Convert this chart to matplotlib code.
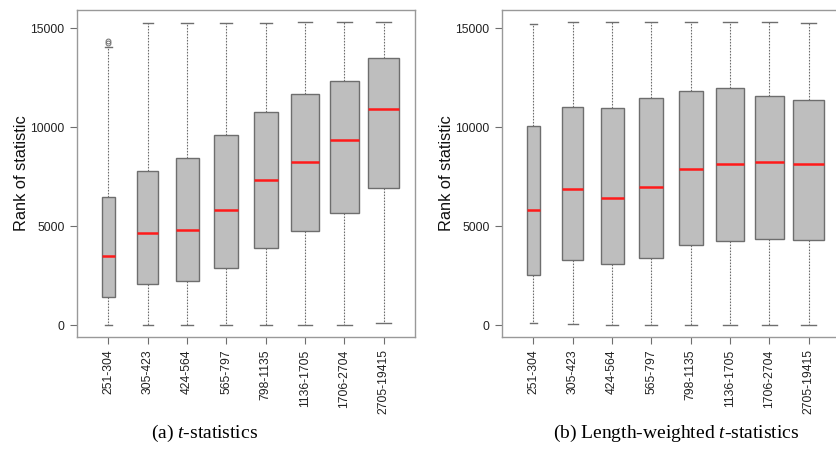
import numpy as np
import matplotlib
matplotlib.use('Agg')
import matplotlib.pyplot as plt

plt.rcParams['font.family'] = ['Liberation Sans', 'DejaVu Sans']
plt.rcParams['mathtext.fontset'] = 'custom'
plt.rcParams['mathtext.it'] = 'Liberation Serif:italic'
plt.rcParams['mathtext.rm'] = 'Liberation Serif'

# length groups (x categories)
groups = ['251-304', '305-423', '424-564', '565-797', '798-1135',
          '1136-1705', '1706-2704', '2705-19415']

# (a) t-statistics: whisker low, Q1, median, Q3, whisker high
t_low = [0, 0, 0, 0, 0, 0, 0, 120]
t_q1 = [1410, 2080, 2250, 2890, 3900, 4740, 5670, 6930]
t_med = [3480, 4650, 4790, 5820, 7310, 8255, 9330, 10930]
t_q3 = [6455, 7800, 8420, 9600, 10760, 11700, 12340, 13470]
t_high = [14040, 15250, 15280, 15280, 15280, 15300, 15300, 15300]
t_outliers = [[14230, 14360], [], [], [], [], [], [], []]

# (b) length-weighted t-statistics
w_low = [85, 50, 20, 0, 0, 0, 0, 0]
w_q1 = [2540, 3280, 3080, 3415, 4035, 4240, 4360, 4290]
w_med = [5835, 6895, 6405, 6980, 7900, 8155, 8220, 8140]
w_q3 = [10070, 10995, 10960, 11470, 11820, 11970, 11570, 11380]
w_high = [15230, 15300, 15300, 15300, 15300, 15300, 15300, 15250]
w_outliers = [[], [], [], [], [], [], [], []]

# varwidth-style box widths
box_widths = [0.33, 0.53, 0.585, 0.61, 0.61, 0.71, 0.74, 0.80]

edge = '#6e6e6e'


def make_stats(low, q1, med, q3, high, fl):
    return [dict(whislo=a, q1=b, med=c, q3=d, whishi=e, fliers=f)
            for a, b, c, d, e, f in zip(low, q1, med, q3, high, fl)]


def draw(ax, stats):
    pos = np.arange(1, len(groups) + 1)
    ax.bxp(stats, positions=pos, widths=box_widths, patch_artist=True,
           capwidths=[w * 0.5 for w in box_widths],
           boxprops=dict(facecolor='#bebebe', edgecolor=edge, linewidth=1.0),
           medianprops=dict(color='#ff1a1a', linewidth=1.8),
           whiskerprops=dict(color=edge, linestyle=(0, (1.5, 1.2)), linewidth=0.8),
           capprops=dict(color=edge, linewidth=1.0),
           flierprops=dict(marker='o', markerfacecolor='none', markeredgecolor=edge,
                           markersize=3.5, markeredgewidth=0.7))
    ax.set_xlim(0.2, 8.8)
    ax.set_ylim(-600, 15920)
    ax.set_yticks([0, 5000, 10000, 15000])
    ax.set_yticklabels(['0', '5000', '10000', '15000'])
    ax.set_xticks(pos)
    ax.set_xticklabels(groups, rotation=90)
    ax.tick_params(direction='out', length=5, width=0.8, color=edge,
                   labelsize=8.7, labelcolor='#222222', pad=4)
    for s in ax.spines.values():
        s.set_color('#999999')
        s.set_linewidth(1.0)
    ax.set_ylabel('Rank of statistic', fontsize=11.8, color='#111111')
    ax.yaxis.set_label_coords(-0.142, 0.5)
    ax.set_facecolor('white')


fig = plt.figure(figsize=(8.36, 4.51), dpi=100)
W, H = 836, 451
ax1 = fig.add_axes([77 / W, 1 - 337 / H, 338 / W, 327 / H])
ax2 = fig.add_axes([502 / W, 1 - 337 / H, 338 / W, 327 / H])

draw(ax1, make_stats(t_low, t_q1, t_med, t_q3, t_high, t_outliers))
draw(ax2, make_stats(w_low, w_q1, w_med, w_q3, w_high, w_outliers))

fig.text(205 / W, 1 - 438 / H, r'(a) $t$-statistics', ha='center', va='baseline',
         fontsize=14, family='Liberation Serif')
fig.text(676 / W, 1 - 438 / H, r'(b) Length-weighted $t$-statistics', ha='center',
         va='baseline', fontsize=14, family='Liberation Serif')

fig.savefig('out.png', dpi=100)
